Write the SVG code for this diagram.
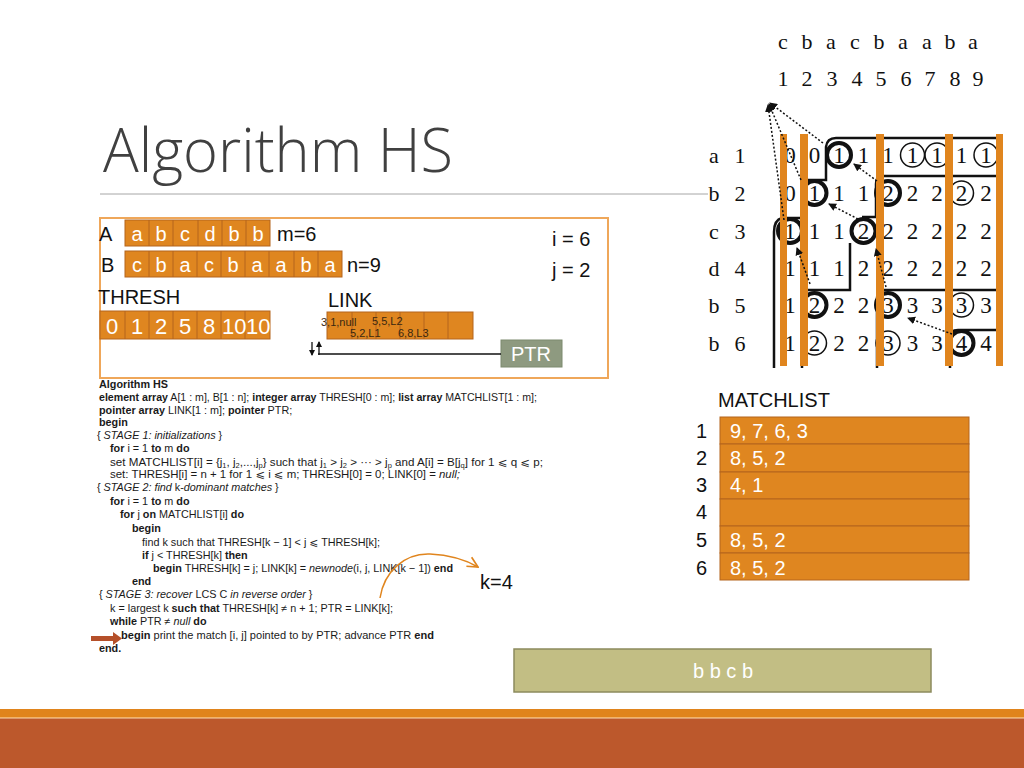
<svg xmlns="http://www.w3.org/2000/svg" width="1024" height="768" viewBox="0 0 1024 768">
<defs>
<style>
.cell{fill:#DF8620;stroke:#B4641C;stroke-width:1}
.wt{fill:#fff;font-family:"Liberation Sans",Arial,sans-serif;font-size:20px}
.lbl{fill:#111;font-family:"Liberation Sans",Arial,sans-serif;font-size:20px}
.alg{font-family:"Liberation Sans",Arial,"DejaVu Sans",sans-serif;font-size:10.8px;fill:#1a1a1a}
.b{font-weight:bold}
.i{font-style:italic}
.sub{font-size:7px}
.mx{font-family:"Liberation Serif","Times New Roman",serif;font-size:23px;fill:#111;text-anchor:middle}
.hd{font-family:"Liberation Serif","Times New Roman",serif;font-size:22px;fill:#111;text-anchor:middle}
.c{fill:#fff;fill-opacity:0;stroke:#111;stroke-width:1.5}
.cb{fill:none;stroke:#111;stroke-width:4}
.bar{fill:#E0851E}
.dot{stroke:#111;stroke-width:1.5;stroke-dasharray:2 2;fill:none;marker-end:url(#ah)}
.ct{fill:none;stroke:#111;stroke-width:2.5}
.lk{font-family:"Liberation Sans",Arial,sans-serif;font-size:11px;fill:#3a2810}
</style>
<marker id="ah" viewBox="0 0 8 8" refX="7" refY="4" markerWidth="8" markerHeight="8" markerUnits="userSpaceOnUse" orient="auto"><path d="M0 0 L8 4 L0 8 Z" fill="#111"/></marker>
<marker id="oh" viewBox="0 0 10 10" refX="9" refY="5" markerWidth="13" markerHeight="13" markerUnits="userSpaceOnUse" orient="auto"><path d="M1 1 L9 5 L1 9" fill="none" stroke="#E0851E" stroke-width="1.3"/></marker>
<marker id="sa" viewBox="0 0 6 6" refX="5" refY="3" markerWidth="6" markerHeight="6" markerUnits="userSpaceOnUse" orient="auto"><path d="M0 0 L6 3 L0 6 Z" fill="#111"/></marker>
</defs>
<rect width="1024" height="768" fill="#fff"/>

<g id="title">
<text x="103" y="172" font-family="'Open Sans','Liberation Sans',sans-serif" font-weight="300" font-size="60" fill="#404040" textLength="350" lengthAdjust="spacingAndGlyphs">Algorithm HS</text>
<line x1="100" y1="194" x2="708" y2="194" stroke="#A6A6A6" stroke-width="1"/>
</g>

<g id="panel">
<rect x="100" y="218" width="508" height="160" fill="none" stroke="#EFA75A" stroke-width="2"/>
</g>

<g id="arrayA">
<text class="lbl" x="99" y="241">A</text>
<rect class="cell" x="125" y="220" width="145" height="26"/>
<path d="M149 220V246M173 220V246M198 220V246M222 220V246M246 220V246" stroke="#B4641C" stroke-width="1"/>
<text class="wt" text-anchor="middle" x="137 161 185 210 234 258" y="241">abcdbb</text>
<text class="lbl" x="277" y="241">m=6</text>
</g>

<g id="arrayB">
<text class="lbl" x="101" y="272">B</text>
<rect class="cell" x="125" y="251" width="217" height="26"/>
<path d="M149 251V277M173 251V277M197 251V277M221 251V277M245 251V277M269 251V277M294 251V277M318 251V277" stroke="#B4641C" stroke-width="1"/>
<text class="wt" text-anchor="middle" x="137 161 185 209 233 257 281 306 330" y="272">cbacbaaba</text>
<text class="lbl" x="347" y="272">n=9</text>
</g>

<g id="thresh">
<text class="lbl" x="98" y="304">THRESH</text>
<rect class="cell" x="100" y="311" width="170" height="28"/>
<path d="M125 311V339M149 311V339M173 311V339M197 311V339M221 311V339M245 311V339" stroke="#B4641C" stroke-width="1"/>
<text class="wt" text-anchor="middle" x="112 137 161 185 209" y="334" style="font-size:22px">01258</text>
<text class="wt" x="222" y="334" style="font-size:22px">10</text>
<text class="wt" x="246" y="334" style="font-size:22px">10</text>
</g>

<g id="link">
<text class="lbl" x="328" y="307">LINK</text>
<rect class="cell" x="327" y="312" width="146" height="27"/>
<path d="M352 312V339M376 312V339M400 312V339M424 312V339M448 312V339" stroke="#B4641C" stroke-width="1"/>
<text class="lk" x="321" y="326">3,1,null</text>
<text class="lk" x="372" y="325">5,5,L2</text>
<text class="lk" x="350" y="337">5,2,L1</text>
<text class="lk" x="398" y="337">6,8,L3</text>
</g>

<g id="ptr">
<rect x="501" y="340" width="61" height="27" fill="#8E9A80" stroke="#7C8A6E" stroke-width="1"/>
<text class="wt" text-anchor="middle" x="531" y="361">PTR</text>
</g>

<g id="indices">
<text class="lbl" x="552" y="246">i = 6</text>
<text class="lbl" x="552" y="277">j = 2</text>
</g>

<g id="algorithm" class="alg">
<text x="99" y="388" class="b">Algorithm HS</text>
<text x="99" y="401" textLength="438" lengthAdjust="spacingAndGlyphs"><tspan class="b">element array</tspan> A[1 : m], B[1 : n]; <tspan class="b">integer array</tspan> THRESH[0 : m]; <tspan class="b">list array</tspan> MATCHLIST[1 : m];</text>
<text x="99" y="414"><tspan class="b">pointer array</tspan> LINK[1 : m]; <tspan class="b">pointer</tspan> PTR;</text>
<text x="99" y="426" class="b">begin</text>
<text x="97" y="439">{ <tspan class="i">STAGE 1: initializations</tspan> }</text>
<text x="110" y="452"><tspan class="b">for</tspan> i = 1 <tspan class="b">to</tspan> m <tspan class="b">do</tspan></text>
<text x="110" y="466" textLength="433" lengthAdjust="spacingAndGlyphs">set MATCHLIST[i] = {j<tspan class="sub" dy="2">1</tspan><tspan dy="-2">, j</tspan><tspan class="sub" dy="2">2</tspan><tspan dy="-2">,...,j</tspan><tspan class="sub" dy="2">p</tspan><tspan dy="-2">} such that j</tspan><tspan class="sub" dy="2">1</tspan><tspan dy="-2"> &gt; j</tspan><tspan class="sub" dy="2">2</tspan><tspan dy="-2"> &gt; ··· &gt; j</tspan><tspan class="sub" dy="2">p</tspan><tspan dy="-2"> and A[i] = B[j</tspan><tspan class="sub" dy="2">q</tspan><tspan dy="-2">] for 1 ⩽ q ⩽ p;</tspan></text>
<text x="110" y="478" textLength="350" lengthAdjust="spacingAndGlyphs">set: THRESH[i] = n + 1 for 1 ⩽ i ⩽ m; THRESH[0] = 0; LINK[0] = <tspan class="i">null;</tspan></text>
<text x="97" y="491">{ <tspan class="i">STAGE 2: find</tspan> k-<tspan class="i">dominant matches</tspan> }</text>
<text x="110" y="505"><tspan class="b">for</tspan> i = 1 <tspan class="b">to</tspan> m <tspan class="b">do</tspan></text>
<text x="120" y="518"><tspan class="b">for</tspan> j <tspan class="b">on</tspan> MATCHLIST[i] <tspan class="b">do</tspan></text>
<text x="132" y="532" class="b">begin</text>
<text x="142" y="546" textLength="238" lengthAdjust="spacingAndGlyphs">find k such that THRESH[k − 1] &lt; j ⩽ THRESH[k];</text>
<text x="142" y="559"><tspan class="b">if</tspan> j &lt; THRESH[k] <tspan class="b">then</tspan></text>
<text x="153" y="572" textLength="300" lengthAdjust="spacingAndGlyphs"><tspan class="b">begin</tspan> THRESH[k] = j; LINK[k] = <tspan class="i">newnode</tspan>(i, j, LINK[k − 1]) <tspan class="b">end</tspan></text>
<text x="132" y="585" class="b">end</text>
<text x="99" y="598">{ <tspan class="i">STAGE 3: recover</tspan> LCS C <tspan class="i">in reverse order</tspan> }</text>
<text x="110" y="612" textLength="283" lengthAdjust="spacingAndGlyphs">k = largest k <tspan class="b">such that</tspan> THRESH[k] ≠ n + 1; PTR = LINK[k];</text>
<text x="110" y="625"><tspan class="b">while</tspan> PTR ≠ <tspan class="i">null</tspan> <tspan class="b">do</tspan></text>
<text x="121" y="639" textLength="313" lengthAdjust="spacingAndGlyphs"><tspan class="b">begin</tspan> print the match [i, j] pointed to by PTR; advance PTR <tspan class="b">end</tspan></text>
<text x="99" y="652" class="b">end.</text>
</g>

<g id="k-label">
<text class="lbl" x="480" y="589">k=4</text>
</g>

<g id="matrix">
<text class="hd" x="783 807 831 855 879 903 927 950 973" y="49">cbacbaaba</text>
<text class="hd" x="783 807 832 857 881 906 930 955 978" y="86">123456789</text>
<text class="hd" x="714" y="163">a</text><text class="hd" x="740" y="163">1</text>
<text class="hd" x="714" y="201">b</text><text class="hd" x="740" y="201">2</text>
<text class="hd" x="714" y="239">c</text><text class="hd" x="740" y="239">3</text>
<text class="hd" x="714" y="276">d</text><text class="hd" x="740" y="276">4</text>
<text class="hd" x="714" y="313">b</text><text class="hd" x="740" y="313">5</text>
<text class="hd" x="714" y="351">b</text><text class="hd" x="740" y="351">6</text>
<path class="ct" d="M1001 138 H836 Q827 138 826 147 V180 H803 V218 H782 Q774 220 774 232 V368"/>
<path class="ct" d="M1001 176 H882 Q876 176 876 184 V217 H862 M850 243 V290 H806 V294 M802 317 V368"/>
<path class="ct" d="M1001 290 H884 Q877 290 877 298 V368"/>
<path class="ct" d="M1001 330 H958 Q950 330 950 338 V368"/>
<text class="mx" x="790 814.5 839 863.5 888 912.5 937 961.5 986" y="163">001111111</text>
<text class="mx" x="790 814.5 839 863.5 888 912.5 937 961.5 986" y="201">011122222</text>
<text class="mx" x="790 814.5 839 863.5 888 912.5 937 961.5 986" y="239">111222222</text>
<text class="mx" x="790 814.5 839 863.5 888 912.5 937 961.5 986" y="276">111222222</text>
<text class="mx" x="790 814.5 839 863.5 888 912.5 937 961.5 986" y="313">122233333</text>
<text class="mx" x="790 814.5 839 863.5 888 912.5 937 961.5 986" y="351">122233344</text>
<circle class="cb" cx="839" cy="155" r="12"/>
<circle class="c" cx="912.5" cy="155" r="12"/>
<circle class="c" cx="937" cy="155" r="12"/>
<circle class="c" cx="986" cy="155" r="12"/>
<circle class="cb" cx="814.5" cy="193" r="12"/>
<circle class="cb" cx="888" cy="193" r="12"/>
<circle class="c" cx="961.5" cy="193" r="12"/>
<circle class="cb" cx="790" cy="231" r="12"/>
<circle class="cb" cx="863.5" cy="231" r="12"/>
<circle class="cb" cx="814.5" cy="305" r="12"/>
<circle class="cb" cx="888" cy="305" r="12"/>
<circle class="c" cx="961.5" cy="305" r="12"/>
<circle class="c" cx="814.5" cy="343" r="12"/>
<circle class="c" cx="888" cy="343" r="12"/>
<circle class="cb" cx="961.5" cy="343" r="12"/>
<rect class="bar" x="780" y="134" width="7" height="232"/>
<rect class="bar" x="800" y="134" width="8" height="232"/>
<rect class="bar" x="876" y="134" width="8" height="232"/>
<rect class="bar" x="945" y="134" width="8" height="232"/>
<rect class="bar" x="996" y="134" width="7" height="232"/>
</g>

<g id="matchlist">
<text class="lbl" x="718" y="407">MATCHLIST</text>
<rect class="cell" x="720" y="417" width="249" height="27"/>
<rect class="cell" x="720" y="444" width="249" height="28"/>
<rect class="cell" x="720" y="472" width="249" height="27"/>
<rect class="cell" x="720" y="499" width="249" height="27"/>
<rect class="cell" x="720" y="526" width="249" height="27"/>
<rect class="cell" x="720" y="553" width="249" height="27"/>
<text class="lbl" x="696" y="438">1</text>
<text class="lbl" x="696" y="465">2</text>
<text class="lbl" x="696" y="492">3</text>
<text class="lbl" x="696" y="519">4</text>
<text class="lbl" x="696" y="547">5</text>
<text class="lbl" x="696" y="575">6</text>
<text class="wt" x="730" y="438">9, 7, 6, 3</text>
<text class="wt" x="730" y="465">8, 5, 2</text>
<text class="wt" x="730" y="492">4, 1</text>
<text class="wt" x="730" y="547">8, 5, 2</text>
<text class="wt" x="730" y="575">8, 5, 2</text>
</g>

<g id="result">
<rect x="514" y="649" width="417" height="43" fill="#C2BE84" stroke="#8C8B5E" stroke-width="1.5"/>
<text class="wt" text-anchor="middle" x="723" y="678" fill="#F8F8F0">b b c b</text>
</g>

<g id="connectors">
<path class="dot" d="M823 143 L770 103"/>
<path class="dot" d="M801 180 L769 104"/>
<path class="dot" d="M784 220 L768 105"/>
<path class="dot" d="M877 181 L854 164"/>
<path class="dot" d="M858 219 L829 204"/>
<path class="dot" d="M886 287 L876 249"/>
<path class="dot" d="M810 284 L797 248"/>
<path class="dot" d="M952 334 L908 318"/>
<line x1="318" y1="354" x2="501" y2="354" stroke="#111" stroke-width="1.5"/>
<path d="M312 342 V355" stroke="#111" stroke-width="1.3" marker-end="url(#sa)"/>
<path d="M319 355 V342" stroke="#111" stroke-width="1.3" marker-end="url(#sa)"/>
<path d="M380 598 C384 572 404 553 430 554 C450 555 466 560 478 567" fill="none" stroke="#E0851E" stroke-width="1.5" marker-end="url(#oh)"/>
<path d="M91 636 H113 V632 L122 638.5 L113 645 V641 H91 Z" fill="#B5502A"/>
</g>

<g id="footer">
<rect x="0" y="709" width="1024" height="8" fill="#E0841C"/>
<rect x="0" y="717" width="1024" height="1.5" fill="#F3B56A"/>
<rect x="0" y="718.5" width="1024" height="49.5" fill="#BC582C"/>
</g>
</svg>
